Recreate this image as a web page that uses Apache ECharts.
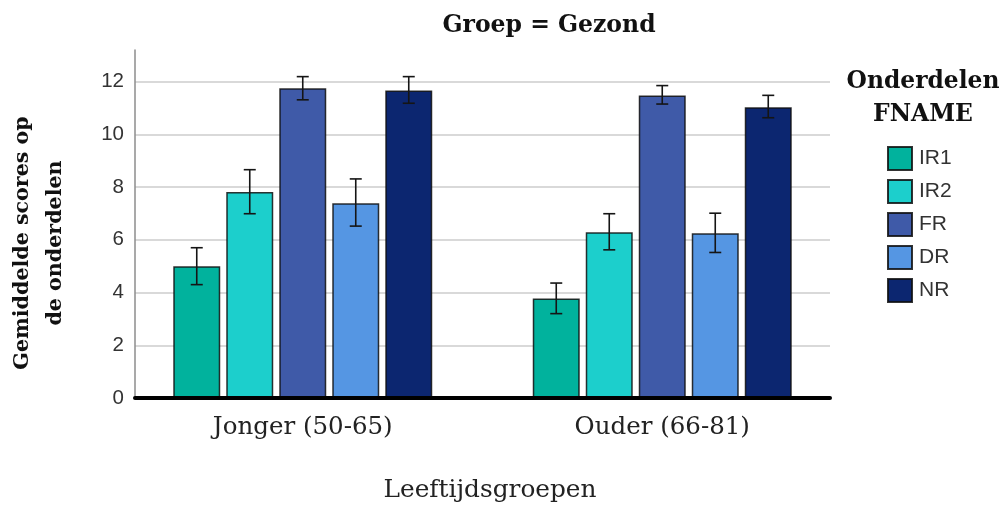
<!DOCTYPE html>
<html>
<head>
<meta charset="utf-8">
<script src="https://cdn.jsdelivr.net/npm/echarts@6/dist/echarts.min.js"></script>
<style>
  html, body { margin: 0; padding: 0; background: #ffffff; }
  #chart { width: 1005px; height: 505px; }
</style>
</head>
<body>
<div id="chart"></div>
<script>
// ---- data ----
const categories = ['Jonger (50-65)', 'Ouder (66-81)'];
const seriesNames = ['IR1', 'IR2', 'FR', 'DR', 'NR'];
const IR1 = [5.00, 3.77];
const IR2 = [7.81, 6.29];
const FR  = [11.75, 11.47];
const DR  = [7.39, 6.25];
const NR  = [11.66, 11.03];
const IR1_low = [4.30, 3.20], IR1_high = [5.70, 4.36];
const IR2_low = [6.99, 5.62], IR2_high = [8.66, 6.99];
const FR_low  = [11.31, 11.15], FR_high = [12.19, 11.85];
const DR_low  = [6.52, 5.52], DR_high = [8.31, 7.01];
const NR_low  = [11.18, 10.63], NR_high = [12.19, 11.48];
const yMin = 0, yMax = 13.2, yInterval = 2;

const values = [IR1, IR2, FR, DR, NR];
const lows = [IR1_low, IR2_low, FR_low, DR_low, NR_low];
const highs = [IR1_high, IR2_high, FR_high, DR_high, NR_high];

// ---- styles ----
const colors = ['#01b29d', '#1ccfcc', '#3f5aa8', '#5596e3', '#0c2670'];
const BAR_W = 47, BAR_GAP = 6, CAP = 12;
const SERIF = 'DejaVu Serif';
const SANS = 'Liberation Sans';

const chart = echarts.init(document.getElementById('chart'), null, { renderer: 'canvas' });

const series = [];
seriesNames.forEach((name, i) => {
  series.push({
    name: name,
    type: 'bar',
    xAxisIndex: 1, yAxisIndex: 1,
    data: values[i],
    barWidth: BAR_W,
    barGap: (BAR_GAP / BAR_W * 100).toFixed(2) + '%',
    itemStyle: { color: colors[i], borderColor: 'rgba(15,15,15,0.85)', borderWidth: 1.5 },
    emphasis: { disabled: true },
    z: 2
  });
});
seriesNames.forEach((name, i) => {
  series.push({
    type: 'custom',
    xAxisIndex: 1, yAxisIndex: 1,
    data: categories.map((c, k) => [k, lows[i][k], highs[i][k]]),
    z: 5,
    silent: true,
    renderItem: function (params, api) {
      const lo = api.coord([api.value(0), api.value(1)]);
      const hi = api.coord([api.value(0), api.value(2)]);
      const x = lo[0] + (i - 2) * (BAR_W + BAR_GAP);
      const st = { stroke: '#151515', lineWidth: 1.6 };
      return {
        type: 'group',
        children: [
          { type: 'line', shape: { x1: x, y1: lo[1], x2: x, y2: hi[1] }, style: st },
          { type: 'line', shape: { x1: x - CAP / 2, y1: lo[1], x2: x + CAP / 2, y2: lo[1] }, style: st },
          { type: 'line', shape: { x1: x - CAP / 2, y1: hi[1], x2: x + CAP / 2, y2: hi[1] }, style: st }
        ]
      };
    }
  });
});

const option = {
  backgroundColor: '#ffffff',
  animation: false,
  grid: [
    { left: 135, right: 175, top: 50, bottom: 107 },
    { left: 123, width: 719, top: 50, bottom: 107 }
  ],
  xAxis: [
    {
      gridIndex: 0, type: 'value', min: 0, max: 1, z: 10,
      axisLine: { show: true, onZero: false, lineStyle: { color: '#000', width: 4 } },
      axisTick: { show: false }, axisLabel: { show: false }, splitLine: { show: false }
    },
    {
      gridIndex: 1, type: 'category', data: categories,
      axisLine: { show: false }, axisTick: { show: false },
      axisLabel: { fontFamily: SERIF, fontSize: 24.5, color: '#222', margin: 17 },
      splitLine: { show: false }
    }
  ],
  yAxis: [
    {
      gridIndex: 0, type: 'value', min: yMin, max: yMax, interval: yInterval,
      axisLine: { show: true, lineStyle: { color: '#8c8c8c', width: 1.5 } },
      axisTick: { show: false },
      axisLabel: {
        fontFamily: SANS, fontSize: 20.5, color: '#333', margin: 11,
        formatter: v => (Math.abs(v % yInterval) < 1e-9 ? String(v) : '')
      },
      splitLine: { show: true, showMaxLine: false, lineStyle: { color: '#cdcdcd', width: 1.5 } }
    },
    {
      gridIndex: 1, type: 'value', min: yMin, max: yMax, show: false,
      splitLine: { show: false }
    }
  ],
  legend: {
    data: seriesNames,
    orient: 'vertical',
    left: 882, top: 141,
    itemWidth: 24, itemHeight: 23, itemGap: 8,
    icon: 'rect',
    textStyle: { fontFamily: SANS, fontSize: 21, color: '#333', padding: [0, 0, 0, 2] },
    selectedMode: false
  },
  graphic: [
    {
      type: 'text', x: 549, y: 26,
      style: { text: 'Groep = Gezond', font: 'bold 23.5px "' + SERIF + '"', fill: '#111', textAlign: 'center', textVerticalAlign: 'middle' }
    },
    {
      type: 'text', x: 39, y: 243, rotation: Math.PI / 2,
      style: { text: 'Gemiddelde scores op\nde onderdelen', font: 'bold 20.6px "' + SERIF + '"', fill: '#111', textAlign: 'center', textVerticalAlign: 'middle', lineHeight: 33 }
    },
    {
      type: 'text', x: 923, y: 98,
      style: { text: 'Onderdelen\nFNAME', font: 'bold 23.4px "' + SERIF + '"', fill: '#111', textAlign: 'center', textVerticalAlign: 'middle', lineHeight: 33 }
    },
    {
      type: 'text', x: 490, y: 491,
      style: { text: 'Leeftijdsgroepen', font: '24.8px "' + SERIF + '"', fill: '#222', textAlign: 'center', textVerticalAlign: 'middle' }
    }
  ],
  series: series
};
chart.setOption(option);
</script>
</body>
</html>
